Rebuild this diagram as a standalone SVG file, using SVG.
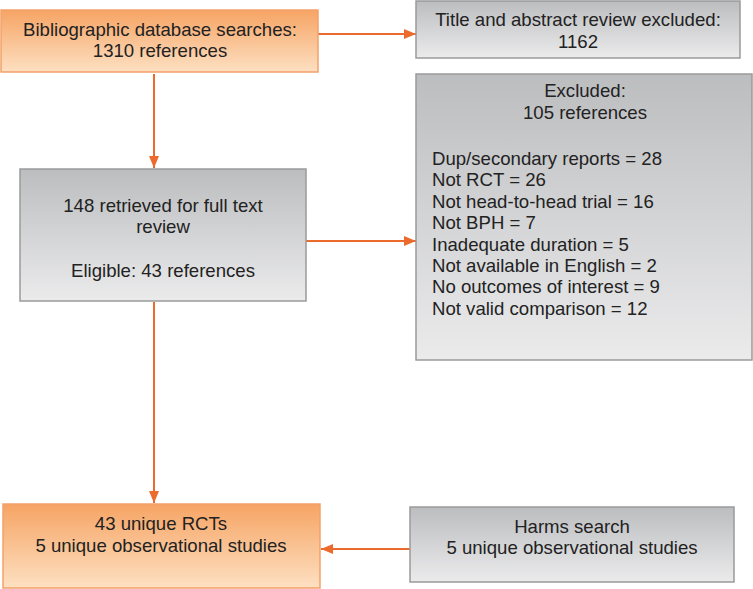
<svg xmlns="http://www.w3.org/2000/svg" width="753" height="589" viewBox="0 0 753 589">
<defs>
<linearGradient id="gOr" x1="0" y1="0" x2="0" y2="1">
<stop offset="0" stop-color="#f6a464"/>
<stop offset="1" stop-color="#fde0c2"/>
</linearGradient>
<linearGradient id="gGr" x1="0" y1="0" x2="0" y2="1">
<stop offset="0" stop-color="#bcbdbf"/>
<stop offset="1" stop-color="#ebebec"/>
</linearGradient>
<marker id="ah" viewBox="0 0 12 10" refX="12" refY="5" markerWidth="12" markerHeight="10" markerUnits="userSpaceOnUse" orient="auto">
<path d="M0,0 L12,5 L0,10 Z" fill="#ec6a2c"/>
</marker>
<style>
.or{fill:url(#gOr);stroke:#f3a16a;stroke-width:1.5}
.gr{fill:url(#gGr);stroke:#9a9a9a;stroke-width:1.5}
text{font-family:"Liberation Sans",Arial,sans-serif;font-size:18.6px;fill:#222}
.c{text-anchor:middle}
.con line{stroke:#ec6a2c;stroke-width:2;marker-end:url(#ah)}
</style>
</defs>
<g class="con">
<line x1="318" y1="34" x2="416" y2="34"/>
<line x1="154" y1="74" x2="154" y2="168"/>
<line x1="306" y1="241" x2="416" y2="241"/>
<line x1="154" y1="302" x2="154" y2="503"/>
<line x1="410" y1="549" x2="321" y2="549"/>
</g>
<g id="n1">
<rect class="or" x="1" y="10" width="317" height="62"/>
<text class="c" x="160" y="36">Bibliographic database searches:</text>
<text class="c" x="160" y="57">1310 references</text>
</g>
<g id="n2">
<rect class="gr" x="416" y="1" width="324" height="57"/>
<text class="c" x="578" y="26">Title and abstract review excluded:</text>
<text class="c" x="578" y="48">1162</text>
</g>
<g id="n3">
<rect class="gr" x="416" y="74" width="336" height="286"/>
<text class="c" x="585" y="97">Excluded:</text>
<text class="c" x="585" y="119">105 references</text>
<text x="432" y="165">Dup/secondary reports = 28</text>
<text x="432" y="186.4">Not RCT = 26</text>
<text x="432" y="207.8">Not head-to-head trial = 16</text>
<text x="432" y="229.2">Not BPH = 7</text>
<text x="432" y="250.6">Inadequate duration = 5</text>
<text x="432" y="272">Not available in English = 2</text>
<text x="432" y="293.4">No outcomes of interest = 9</text>
<text x="432" y="314.8">Not valid comparison = 12</text>
</g>
<g id="n4">
<rect class="gr" x="20" y="169" width="286" height="132"/>
<text class="c" x="163" y="212">148 retrieved for full text</text>
<text class="c" x="163" y="233">review</text>
<text class="c" x="163" y="277">Eligible: 43 references</text>
</g>
<g id="n5">
<rect class="or" x="3" y="504" width="317" height="84"/>
<text class="c" x="161" y="530">43 unique RCTs</text>
<text class="c" x="161" y="552">5 unique observational studies</text>
</g>
<g id="n6">
<rect class="gr" x="410" y="507" width="324" height="75"/>
<text class="c" x="572" y="533">Harms search</text>
<text class="c" x="572" y="554">5 unique observational studies</text>
</g>
</svg>
